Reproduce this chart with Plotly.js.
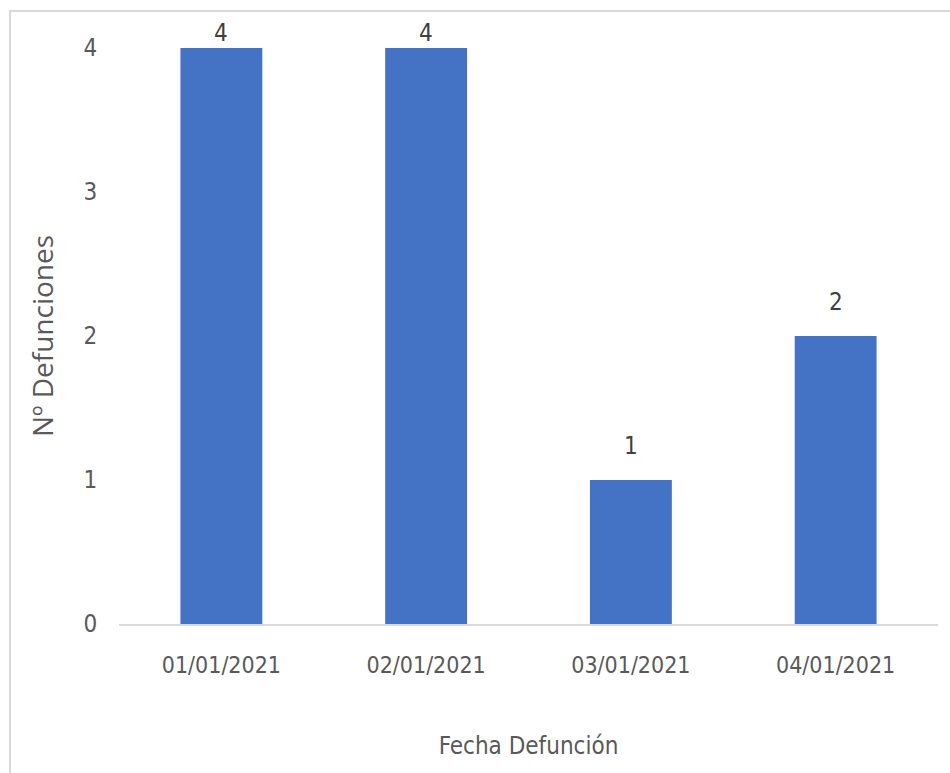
<!DOCTYPE html>
<html>
<head>
<meta charset="utf-8">
<script src="https://cdn.plot.ly/plotly-3.0.1.min.js"></script>
<style>
  html, body { margin: 0; padding: 0; background: #ffffff; }
  #wrap { position: relative; width: 950px; height: 773px; overflow: hidden; }
  #frame { position: absolute; left: 9px; top: 10px; width: 960px; height: 780px;
           border: 2px solid #d9d9d9; box-sizing: border-box; }
  #chart { position: absolute; left: 0; top: 0; width: 950px; height: 773px; }
</style>
</head>
<body>
<div id="wrap">
  <div id="frame"></div>
  <div id="chart"></div>
</div>
<script>
const categories = ["01/01/2021", "02/01/2021", "03/01/2021", "04/01/2021"];
const defunciones = [4, 4, 1, 2];
const yTicks = [0, 1, 2, 3, 4];

const narrow = "'DejaVu Sans Condensed', 'Liberation Sans Narrow', sans-serif";
const textColor = "#595959";

const marginTop = 48, marginBottom = 149, figH = 773;
const plotH = figH - marginTop - marginBottom;
const yMax = 4;

const trace = {
  type: "bar",
  x: categories,
  y: defunciones,
  marker: { color: "#4472C4" },
  hoverinfo: "x+y"
};

// data labels as annotations, lifted above the bars (clamped near the top edge)
const annotations = categories.map((c, i) => {
  const v = defunciones[i];
  const barTopPx = marginTop + (yMax - v) / yMax * plotH;
  const shift = Math.min(34, barTopPx - 33);
  return {
    x: c, y: v, xref: "x", yref: "y",
    text: String(v), showarrow: false,
    yanchor: "middle", yshift: shift,
    font: { family: narrow, size: 24, color: "#404040" }
  };
});

const layout = {
  width: 950,
  height: 773,
  margin: { l: 119, r: 12, t: marginTop, b: marginBottom },
  paper_bgcolor: "rgba(0,0,0,0)",
  plot_bgcolor: "rgba(0,0,0,0)",
  bargap: 0.6,
  showlegend: false,
  annotations: annotations,
  xaxis: {
    type: "category",
    showgrid: false,
    zeroline: false,
    showline: true,
    linecolor: "#d9d9d9",
    linewidth: 2,
    ticks: "outside",
    ticklen: 19,
    tickcolor: "rgba(0,0,0,0)",
    tickfont: { family: narrow, size: 23, color: textColor },
    title: { text: "Fecha Defunción", font: { family: narrow, size: 24, color: textColor }, standoff: 61 },
    fixedrange: true
  },
  yaxis: {
    range: [0, yMax],
    tickvals: yTicks,
    ticktext: yTicks.map(String),
    showgrid: false,
    zeroline: false,
    showline: false,
    ticks: "outside",
    ticklen: 16,
    tickcolor: "rgba(0,0,0,0)",
    tickfont: { family: narrow, size: 24, color: textColor },
    title: { text: "Nº Defunciones", font: { family: "'Open Sans', 'DejaVu Sans', sans-serif", size: 28, color: textColor }, standoff: 21 },
    fixedrange: true
  }
};

Plotly.newPlot("chart", [trace], layout, { displayModeBar: false, staticPlot: true });
</script>
</body>
</html>
